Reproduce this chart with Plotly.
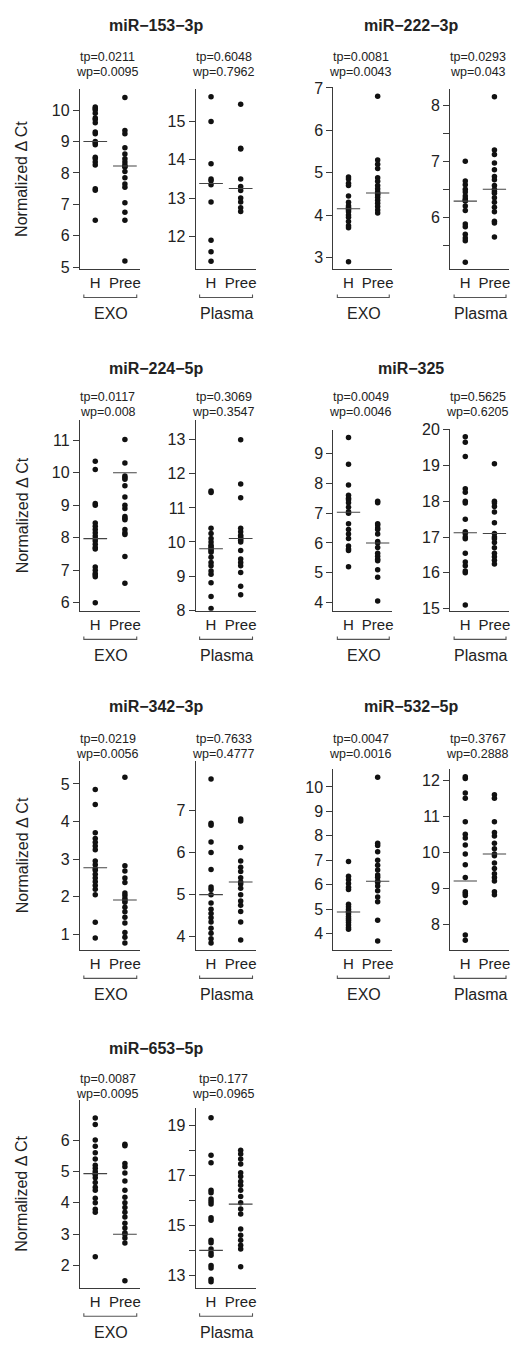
import plotly.graph_objects as go

# ---------------- data ----------------
mirnas = ["miR\u2212153\u22123p", "miR\u2212222\u22123p", "miR\u2212224\u22125p", "miR\u2212325",
          "miR\u2212342\u22123p", "miR\u2212532\u22125p", "miR\u2212653\u22125p"]
groups = ["H", "Pree"]
sources = ["EXO", "Plasma"]

tp_exo = ["0.0211", "0.0081", "0.0117", "0.0049", "0.0219", "0.0047", "0.0087"]
wp_exo = ["0.0095", "0.0043", "0.008", "0.0046", "0.0056", "0.0016", "0.0095"]
tp_pla = ["0.6048", "0.0293", "0.3069", "0.5625", "0.7633", "0.3767", "0.177"]
wp_pla = ["0.7962", "0.043", "0.3547", "0.6205", "0.4777", "0.2888", "0.0965"]

m153_exo_h = [10.1, 10.05, 10.0, 9.9, 9.75, 9.7, 9.6, 9.3, 9.25, 9.0, 8.95, 8.9, 8.5, 8.45, 8.35, 8.25, 7.5, 7.45, 6.5]
m153_exo_p = [10.4, 9.35, 9.25, 8.8, 8.6, 8.45, 8.35, 8.25, 8.2, 8.2, 8.05, 7.85, 7.65, 7.55, 7.05, 6.75, 6.5, 5.2]
m153_pla_h = [15.65, 15.0, 13.9, 13.5, 13.45, 13.35, 12.9, 11.9, 11.6, 11.35]
m153_pla_p = [15.45, 14.3, 14.28, 13.5, 13.3, 13.2, 13.0, 12.9, 12.75, 12.65]

m222_exo_h = [4.9, 4.85, 4.75, 4.7, 4.45, 4.3, 4.22, 4.18, 4.15, 4.12, 4.08, 4.0, 3.95, 3.85, 3.75, 3.7, 2.9]
m222_exo_p = [6.8, 5.3, 5.2, 5.1, 4.88, 4.8, 4.7, 4.62, 4.55, 4.5, 4.48, 4.42, 4.35, 4.28, 4.2, 4.12, 4.05]
m222_pla_h = [7.0, 6.65, 6.58, 6.5, 6.45, 6.38, 6.33, 6.3, 6.29, 6.2, 6.12, 5.88, 5.83, 5.7, 5.63, 5.58, 5.2]
m222_pla_p = [8.15, 7.2, 7.12, 6.97, 6.85, 6.73, 6.67, 6.57, 6.5, 6.46, 6.43, 6.35, 6.27, 6.18, 6.1, 5.93, 5.9, 5.65]

m224_exo_h = [10.35, 10.1, 9.05, 9.0, 8.45, 8.35, 8.25, 8.15, 8.05, 7.97, 7.9, 7.8, 7.7, 7.65, 7.1, 7.0, 6.9, 6.85, 6.8, 6.0]
m224_exo_p = [11.02, 10.3, 9.9, 9.85, 9.8, 9.6, 9.25, 9.0, 8.9, 8.65, 8.6, 8.55, 8.25, 8.15, 8.1, 7.42, 6.6]
m224_pla_h = [11.5, 11.45, 10.4, 10.25, 10.1, 10.0, 9.9, 9.85, 9.8, 9.75, 9.7, 9.55, 9.4, 9.3, 9.15, 9.05, 8.8, 8.4, 8.05]
m224_pla_p = [13.0, 11.7, 11.3, 10.4, 10.3, 10.2, 10.15, 10.1, 10.05, 10.0, 9.75, 9.5, 9.4, 9.3, 9.1, 8.7, 8.45]

m325_exo_h = [9.55, 8.65, 7.95, 7.6, 7.5, 7.45, 7.35, 7.2, 7.05, 7.0, 6.65, 6.45, 6.3, 6.15, 5.9, 5.8, 5.75, 5.2]
m325_exo_p = [7.4, 7.35, 6.65, 6.6, 6.5, 6.45, 6.3, 6.05, 6.0, 5.85, 5.65, 5.55, 5.45, 5.4, 5.1, 4.85, 4.05]
m325_pla_h = [19.8, 19.65, 19.25, 18.35, 18.25, 18.0, 17.95, 17.5, 17.15, 17.1, 17.0, 16.95, 16.55, 16.3, 16.2, 16.05, 16.0, 15.1]
m325_pla_p = [19.05, 18.0, 17.95, 17.85, 17.7, 17.4, 17.1, 17.0, 16.95, 16.85, 16.7, 16.55, 16.45, 16.35, 16.25]

m342_exo_h = [4.85, 4.45, 3.7, 3.55, 3.45, 3.35, 3.25, 2.95, 2.85, 2.75, 2.7, 2.6, 2.5, 2.4, 2.3, 2.2, 2.05, 1.32, 0.9]
m342_exo_p = [5.18, 2.82, 2.68, 2.5, 2.38, 2.1, 2.03, 1.95, 1.9, 1.85, 1.72, 1.6, 1.45, 1.3, 1.05, 0.92, 0.77]
m342_pla_h = [7.75, 6.7, 6.65, 6.25, 6.0, 5.6, 5.18, 5.12, 5.0, 4.8, 4.65, 4.55, 4.45, 4.35, 4.2, 4.08, 3.95, 3.85]
m342_pla_p = [6.8, 6.75, 6.12, 5.8, 5.65, 5.55, 5.4, 5.3, 5.25, 5.15, 5.0, 4.85, 4.75, 4.6, 4.35, 3.92]

m532_exo_h = [6.95, 6.35, 6.2, 6.05, 5.9, 5.8, 5.2, 5.1, 5.0, 4.9, 4.88, 4.8, 4.7, 4.62, 4.55, 4.45, 4.35, 4.25, 4.18]
m532_exo_p = [10.4, 7.7, 7.6, 7.35, 7.0, 6.8, 6.6, 6.4, 6.3, 6.15, 6.1, 5.95, 5.75, 5.5, 5.3, 4.55, 3.7]
m532_pla_h = [12.1, 12.05, 11.65, 11.5, 10.85, 10.5, 10.4, 10.2, 9.95, 9.65, 9.3, 8.9, 8.85, 8.8, 8.6, 7.7, 7.55]
m532_pla_p = [11.6, 11.5, 10.85, 10.55, 10.45, 10.25, 10.1, 9.95, 9.9, 9.7, 9.55, 9.4, 9.3, 9.2, 8.9, 8.82]

m653_exo_h = [6.7, 6.5, 6.0, 5.8, 5.6, 5.4, 5.2, 5.1, 5.0, 4.93, 4.9, 4.8, 4.65, 4.5, 4.4, 4.15, 4.0, 3.8, 3.7, 2.28]
m653_exo_p = [5.87, 5.82, 5.25, 5.15, 4.95, 4.7, 4.4, 4.18, 4.0, 3.85, 3.7, 3.55, 3.35, 3.2, 3.05, 3.0, 2.88, 2.72, 1.52]
m653_pla_h = [19.3, 17.8, 17.5, 16.4, 16.3, 16.05, 15.95, 15.85, 15.3, 15.2, 14.4, 14.3, 14.05, 13.9, 13.8, 13.4, 13.3, 12.85, 12.75]
m653_pla_p = [18.0, 17.85, 17.65, 17.45, 17.1, 16.95, 16.75, 16.6, 16.4, 16.15, 15.9, 15.65, 15.45, 14.85, 14.6, 14.4, 14.2, 14.05, 13.35]

# centre (median) lines
center_exo_h = [9.0, 4.15, 7.97, 7.03, 2.77, 4.88, 4.93]
center_exo_p = [8.22, 4.52, 10.0, 6.0, 1.91, 6.14, 3.0]
center_pla_h = [13.38, 6.29, 9.8, 17.12, 5.0, 9.2, 14.0]
center_pla_p = [13.25, 6.5, 10.1, 17.1, 5.3, 9.95, 15.85]

# y tick values / labels
yt_exo = [[5, 6, 7, 8, 9, 10], [3, 4, 5, 6, 7], [6, 7, 8, 9, 10, 11], [4, 5, 6, 7, 8, 9],
          [1, 2, 3, 4, 5], [4, 5, 6, 7, 8, 9, 10], [2, 3, 4, 5, 6]]
yt_pla = [[12, 13, 14, 15], [5.5, 6, 6.5, 7, 7.5, 8], [8, 9, 10, 11, 12, 13], [15, 16, 17, 18, 19, 20],
          [4, 5, 6, 7], [8, 9, 10, 11, 12], [13, 14, 15, 16, 17, 18, 19]]
yl_pla_222 = ["", "6", "", "7", "", "8"]
yl_pla_653 = ["13", "", "15", "", "17", "", "19"]

values = [
    (m153_exo_h, m153_exo_p, m153_pla_h, m153_pla_p),
    (m222_exo_h, m222_exo_p, m222_pla_h, m222_pla_p),
    (m224_exo_h, m224_exo_p, m224_pla_h, m224_pla_p),
    (m325_exo_h, m325_exo_p, m325_pla_h, m325_pla_p),
    (m342_exo_h, m342_exo_p, m342_pla_h, m342_pla_p),
    (m532_exo_h, m532_exo_p, m532_pla_h, m532_pla_p),
    (m653_exo_h, m653_exo_p, m653_pla_h, m653_pla_p),
]

# ---------------- layout (pixels) ----------------
W, H = 516, 1349
col_px = [(80, 140), (196, 256), (334, 393), (451, 510)]
row_bottom = [264, 610, 953, 1295]
row_title = [18, 365, 707, 1053]
row_tp = [50, 394, 740, 1084]
row_wp = [65, 409, 755, 1099]
title_x = [157, 412]
top_px = [(82, 82), (80, 82), (417, 417), (427, 426), (762, 762), (770, 770), (1105, 1113)]
yr_exo = [(4.95, 10.67), (2.73, 7.02), (5.75, 11.62), (3.72, 9.8), (0.59, 5.61), (3.34, 10.74), (1.3, 7.28)]
yr_pla = [(11.15, 15.85), (5.08, 8.29), (7.98, 13.58), (14.94, 20.02), (3.69, 8.18), (7.29, 12.32), (12.51, 19.7)]
XR = [0.48, 2.5]

FONT = "Liberation Sans, Arial, Helvetica, sans-serif"
INK = "#222222"
LINE = "#3a3a3a"

def px_x(p):
    return p / W

def px_y(p):
    return 1 - p / H

fig = go.Figure()
annotations = []
shapes = []
k = 0
for i, name in enumerate(mirnas):
    row, side = divmod(i, 2)
    vals = values[i]
    for s in range(2):
        k += 1
        col = side * 2 + s
        xl, xr = col_px[col]
        top = top_px[i][s]
        bot = row_bottom[row]
        xa = "x" if k == 1 else f"x{k}"
        ya = "y" if k == 1 else f"y{k}"
        xkey = "xaxis" if k == 1 else f"xaxis{k}"
        ykey = "yaxis" if k == 1 else f"yaxis{k}"
        hv, pv = vals[2 * s], vals[2 * s + 1]
        if s == 0:
            ch, cp = center_exo_h[i], center_exo_p[i]
            yr, tv = yr_exo[i], yt_exo[i]
            tt = [str(v) for v in tv]
            tp, wp = tp_exo[i], wp_exo[i]
        else:
            ch, cp = center_pla_h[i], center_pla_p[i]
            yr, tv = yr_pla[i], yt_pla[i]
            if i == 1:
                tt = yl_pla_222
            elif i == 6:
                tt = yl_pla_653
            else:
                tt = [str(v) for v in tv]
            tp, wp = tp_pla[i], wp_pla[i]
        # points
        for gi, gv in enumerate([hv, pv]):
            fig.add_trace(go.Scatter(
                x=[gi + 1] * len(gv), y=gv, mode="markers", xaxis=xa, yaxis=ya,
                marker=dict(size=5.5, color="#111111"), showlegend=False, hoverinfo="y"))
        # centre lines
        for gi, cv in enumerate([ch, cp]):
            fig.add_trace(go.Scatter(
                x=[gi + 1 - 0.4, gi + 1 + 0.4], y=[cv, cv], mode="lines", xaxis=xa, yaxis=ya,
                line=dict(color="#444444", width=1.1), showlegend=False, hoverinfo="skip"))
        fig.layout[xkey] = dict(
            domain=[px_x(xl), px_x(xr)], anchor=ya, range=XR, showgrid=False, zeroline=False,
            showline=True, linecolor=LINE, linewidth=1.2, ticks="", tickvals=[1, 2], ticktext=groups,
            tickfont=dict(family=FONT, size=15, color=INK), fixedrange=True)
        fig.layout[ykey] = dict(
            domain=[px_y(bot), px_y(top)], anchor=xa, range=list(yr), showgrid=False, zeroline=False,
            showline=True, linecolor=LINE, linewidth=1.2, ticks="outside", ticklen=6, tickwidth=1.2,
            tickcolor=LINE, tickvals=tv, ticktext=tt,
            tickfont=dict(family=FONT, size=16, color=INK), fixedrange=True)
        cx = (xl + xr) / 2
        # p-value texts
        annotations.append(dict(text=f"tp={tp}", x=px_x(cx - 2), y=px_y(row_tp[row]), xref="paper", yref="paper",
                                showarrow=False, xanchor="center", yanchor="middle",
                                font=dict(family=FONT, size=12.5, color=INK)))
        annotations.append(dict(text=f"wp={wp}", x=px_x(cx - 2), y=px_y(row_wp[row]), xref="paper", yref="paper",
                                showarrow=False, xanchor="center", yanchor="middle",
                                font=dict(family=FONT, size=12.5, color=INK)))
        # source label
        annotations.append(dict(text=sources[s], x=px_x(cx + 1), y=px_y(bot + 45), xref="paper", yref="paper",
                                showarrow=False, xanchor="center", yanchor="middle",
                                font=dict(family=FONT, size=16, color=INK)))
        # bracket
        b1, b2 = px_y(bot + 26), px_y(bot + 29)
        shapes.append(dict(type="path", xref="paper", yref="paper",
                           path=f"M {px_x(xl + 4)},{b1} L {px_x(xl + 4)},{b2} L {px_x(xr - 3)},{b2} L {px_x(xr - 3)},{b1}",
                           line=dict(color="#555555", width=1.1)))
    # miRNA title
    annotations.append(dict(text=f"<b>{name}</b>", x=px_x(title_x[side]), y=px_y(row_title[row]),
                            xref="paper", yref="paper", showarrow=False, xanchor="center", yanchor="middle",
                            font=dict(family=FONT, size=16, color=INK)))
    if side == 0:
        yc = (top_px[i][0] + row_bottom[row]) / 2
        annotations.append(dict(text="Normalized \u0394 Ct", x=px_x(22), y=px_y(yc), xref="paper", yref="paper",
                                showarrow=False, textangle=-90, xanchor="center", yanchor="middle",
                                font=dict(family=FONT, size=16, color=INK)))

fig.update_layout(width=W, height=H, margin=dict(l=0, r=0, t=0, b=0),
                  paper_bgcolor="white", plot_bgcolor="white",
                  annotations=annotations, shapes=shapes, showlegend=False)

fig.write_html("out.html", config={"displayModeBar": False},
               post_script="document.body.style.margin='0';")
